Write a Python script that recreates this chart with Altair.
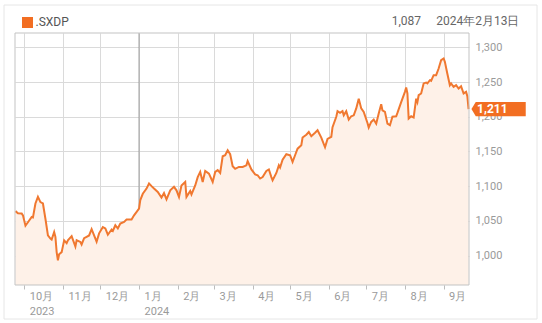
import altair as alt
import pandas as pd

# ---- data ----
dates = [
    "2023-09-24", "2023-09-26", "2023-09-29", "2023-09-30", "2023-10-02", "2023-10-04",
    "2023-10-07", "2023-10-08", "2023-10-10", "2023-10-12", "2023-10-14", "2023-10-16",
    "2023-10-18", "2023-10-20", "2023-10-22", "2023-10-23", "2023-10-25", "2023-10-26",
    "2023-10-27", "2023-10-28", "2023-10-29", "2023-10-31", "2023-11-02", "2023-11-04",
    "2023-11-05", "2023-11-08", "2023-11-11", "2023-11-12", "2023-11-15", "2023-11-16",
    "2023-11-18", "2023-11-20", "2023-11-22", "2023-11-24", "2023-11-28", "2023-11-30",
    "2023-12-03", "2023-12-05", "2023-12-07", "2023-12-10", "2023-12-11", "2023-12-13",
    "2023-12-15", "2023-12-17", "2023-12-20", "2023-12-22", "2023-12-26", "2023-12-28",
    "2024-01-01", "2024-01-02", "2024-01-04", "2024-01-07", "2024-01-09", "2024-01-11",
    "2024-01-13", "2024-01-16", "2024-01-19", "2024-01-21", "2024-01-23", "2024-01-26",
    "2024-01-29", "2024-01-31", "2024-02-02", "2024-02-04", "2024-02-07", "2024-02-08",
    "2024-02-11", "2024-02-12", "2024-02-15", "2024-02-17", "2024-02-19", "2024-02-21",
    "2024-02-23", "2024-02-26", "2024-02-29", "2024-03-02", "2024-03-04", "2024-03-06",
    "2024-03-08", "2024-03-10", "2024-03-12", "2024-03-14", "2024-03-16", "2024-03-18",
    "2024-03-21", "2024-03-24", "2024-03-27", "2024-03-28", "2024-03-31", "2024-04-03",
    "2024-04-05", "2024-04-07", "2024-04-09", "2024-04-12", "2024-04-14", "2024-04-16",
    "2024-04-17", "2024-04-20", "2024-04-22", "2024-04-23", "2024-04-25", "2024-04-28",
    "2024-05-01", "2024-05-03", "2024-05-05", "2024-05-07", "2024-05-10", "2024-05-11",
    "2024-05-14", "2024-05-16", "2024-05-18", "2024-05-21", "2024-05-23", "2024-05-26",
    "2024-05-29", "2024-05-31", "2024-06-03", "2024-06-04", "2024-06-07", "2024-06-08",
    "2024-06-10", "2024-06-12", "2024-06-13", "2024-06-15", "2024-06-17", "2024-06-19",
    "2024-06-21", "2024-06-23", "2024-06-25", "2024-06-27", "2024-06-29", "2024-07-02",
    "2024-07-03", "2024-07-05", "2024-07-07", "2024-07-09", "2024-07-11", "2024-07-13",
    "2024-07-14", "2024-07-16", "2024-07-18", "2024-07-20", "2024-07-22", "2024-07-25",
    "2024-07-26", "2024-07-29", "2024-08-01", "2024-08-02", "2024-08-03", "2024-08-04",
    "2024-08-06", "2024-08-08", "2024-08-10", "2024-08-11", "2024-08-12", "2024-08-14",
    "2024-08-16", "2024-08-18", "2024-08-19", "2024-08-21", "2024-08-22", "2024-08-24",
    "2024-08-26", "2024-08-28", "2024-08-30", "2024-09-01", "2024-09-02", "2024-09-04",
    "2024-09-06", "2024-09-07", "2024-09-09", "2024-09-11", "2024-09-13", "2024-09-15",
    "2024-09-17", "2024-09-19", "2024-09-20", "2024-09-21",
]
values = [
    1064, 1061, 1060.5, 1058, 1043, 1048,
    1055.6, 1055, 1075, 1084.5, 1077, 1075,
    1053, 1029, 1024.5, 1023, 1034, 1027,
    1005, 993, 1002, 1005, 1022, 1018,
    1022, 1028, 1013, 1022, 1019.6, 1016,
    1025, 1027, 1029, 1038, 1020, 1032,
    1041, 1039, 1030, 1037.5, 1035.5, 1043.7,
    1039, 1046, 1048.5, 1052, 1052, 1058,
    1067.7, 1080, 1089, 1096.5, 1103.8, 1100,
    1096.5, 1091.6, 1083.6, 1090, 1081, 1094,
    1099, 1094, 1084.5, 1101, 1106, 1084.5,
    1093, 1088, 1101, 1113, 1120.5, 1106,
    1122, 1118, 1106, 1120.5, 1123, 1119,
    1143, 1144.5, 1151.7, 1146, 1128.7, 1125,
    1127.7, 1127.7, 1130, 1136, 1124, 1117,
    1115.7, 1111, 1113, 1122, 1124, 1113,
    1108.5, 1119, 1130, 1126.8, 1138, 1146,
    1144.5, 1135, 1144.5, 1154, 1159, 1170,
    1174, 1178, 1172, 1177, 1180.5, 1170,
    1156, 1168, 1171, 1185, 1200, 1208,
    1205.5, 1208, 1202, 1208, 1196, 1200.7,
    1202, 1212, 1226, 1212, 1207, 1191,
    1184.5, 1192.5, 1196, 1190, 1204.6, 1218,
    1209, 1207, 1190, 1187.8, 1200, 1200.7,
    1205.5, 1221, 1235.8, 1242, 1233.5, 1197.4,
    1200.7, 1199, 1226, 1221, 1231, 1233.5,
    1248, 1249.3, 1248, 1252.6, 1251.6, 1259.8,
    1259.8, 1269.5, 1281.4, 1283.9, 1279, 1262,
    1245.4, 1248, 1243, 1245.4, 1240.6, 1244,
    1233.5, 1235.8, 1229.5, 1211,
]
series_name = ".SXDP"
header_value = "1,087"
header_date = "2024年2月13日"
y_ticks = [1000, 1050, 1100, 1150, 1200, 1250, 1300]
month_starts = [(2023, 10), (2023, 11), (2023, 12), (2024, 1), (2024, 2), (2024, 3),
                (2024, 4), (2024, 5), (2024, 6), (2024, 7), (2024, 8), (2024, 9)]
year_break = ["2024-01-01"]

ORANGE = "#f26e22"
LINE = "#f07830"
FILL = "#fef1e8"
FONT = "Roboto"

W, H = 454, 252
Y_MIN, Y_MAX = 957.6, 1320.6

df = pd.DataFrame({"date": dates, "value": values})
last = pd.DataFrame({"date": [dates[-1]], "value": [values[-1]]})
one = pd.DataFrame({"a": [0]})

x_scale = alt.Scale(
    type="utc",
    domain=[alt.DateTime(year=2023, month=9, date=23, hours=15, utc=True),
            alt.DateTime(year=2024, month=9, date=21, hours=8, utc=True)],
)
y_scale = alt.Scale(domain=[Y_MIN, Y_MAX], nice=False, zero=False)

label_expr = (
    "(utcmonth(datum.value)==0 || (utcyear(datum.value)==2023 && utcmonth(datum.value)==9))"
    " ? [(utcmonth(datum.value)+1)+'月', utcyear(datum.value)+'']"
    " : (utcmonth(datum.value)+1)+'月'"
)

x_axis = alt.Axis(
    values=[alt.DateTime(year=y, month=m, date=1, utc=True) for y, m in month_starts],
    labelExpr=label_expr, title=None, domain=False,
    grid=True, gridColor="#dadada", gridWidth=1,
    ticks=True, tickColor="#bdbdbd", tickSize=4,
    labelAlign="left", labelBaseline="top", labelOffset=5, labelPadding=1,
    labelLineHeight=15, labelFont=FONT, labelFontSize=11, labelColor="#9a9a9a",
    labelFlush=False, labelOverlap=False,
)
y_axis = alt.Axis(
    values=y_ticks, format=",.0f", orient="right", title=None, domain=False, ticks=False,
    grid=True, gridColor="#dadada", gridWidth=1,
    labelPadding=6, labelFont=FONT, labelFontSize=11, labelColor="#9a9a9a",
)

base = alt.Chart(df).transform_calculate(floor=str(Y_MIN))

area = base.mark_area(color=FILL, clip=True).encode(
    x=alt.X("date:T", scale=x_scale, axis=x_axis),
    y=alt.Y("value:Q", scale=y_scale, axis=y_axis),
    y2=alt.Y2("floor:Q"),
)

year_rule = alt.Chart(pd.DataFrame({"date": year_break})).mark_rule(
    color="#9a9a9a", strokeWidth=1
).encode(x=alt.X("date:T", scale=x_scale))

line = base.mark_line(color=LINE, strokeWidth=2).encode(
    x=alt.X("date:T", scale=x_scale),
    y=alt.Y("value:Q", scale=y_scale),
)

frame = alt.Chart(one).mark_rect(fill="white", fillOpacity=0, stroke="#c3c3c3", strokeWidth=1).encode(
    x=alt.value(0), x2=alt.value(W), y=alt.value(0), y2=alt.value(H)
)
outer = alt.Chart(one).mark_rect(fill="white", fillOpacity=0, stroke="#e6e6e6", strokeWidth=1).encode(
    x=alt.value(-11), x2=alt.value(522), y=alt.value(-28), y2=alt.value(286)
)

tag = alt.Chart(last).mark_point(
    shape="M-1,0L-0.84,-0.26L1,-0.26L1,0.26L-0.84,0.26Z",
    size=2950, filled=True, fill=ORANGE, opacity=1, strokeWidth=0, xOffset=30,
).encode(
    x=alt.X("date:T", scale=x_scale),
    y=alt.Y("value:Q", scale=y_scale),
)
tag_text = alt.Chart(last).mark_text(
    align="left", baseline="middle", dx=8.5, dy=0, color="white",
    font=FONT, fontSize=12, fontWeight="bold",
).encode(
    x=alt.X("date:T", scale=x_scale),
    y=alt.Y("value:Q", scale=y_scale),
    text=alt.Text("value:Q", format=",.0f"),
)

legend_sq = alt.Chart(one).mark_rect(color=ORANGE).encode(
    x=alt.value(7), x2=alt.value(18), y=alt.value(-16), y2=alt.value(-5)
)
legend_txt = alt.Chart(one).mark_text(
    align="left", baseline="alphabetic", font=FONT, fontSize=12, color="#555555"
).encode(x=alt.value(20.5), y=alt.value(-7), text=alt.value(series_name))
hdr_val = alt.Chart(one).mark_text(
    align="right", baseline="alphabetic", font=FONT, fontSize=12, color="#666666"
).encode(x=alt.value(406), y=alt.value(-8), text=alt.value(header_value))
hdr_date = alt.Chart(one).mark_text(
    align="right", baseline="alphabetic", font=FONT, fontSize=12, color="#666666"
).encode(x=alt.value(504.5), y=alt.value(-8), text=alt.value(header_date))

chart = alt.layer(
    outer, year_rule, area, line, frame, tag, tag_text,
    legend_sq, legend_txt, hdr_val, hdr_date,
).properties(
    width=W, height=H,
    autosize=alt.AutoSizeParams(type="none"),
    padding={"left": 15, "top": 33, "right": 73, "bottom": 38},
    background="white",
).configure_view(stroke=None)

chart.save("out.html", embed_options={"renderer": "svg", "actions": False})
